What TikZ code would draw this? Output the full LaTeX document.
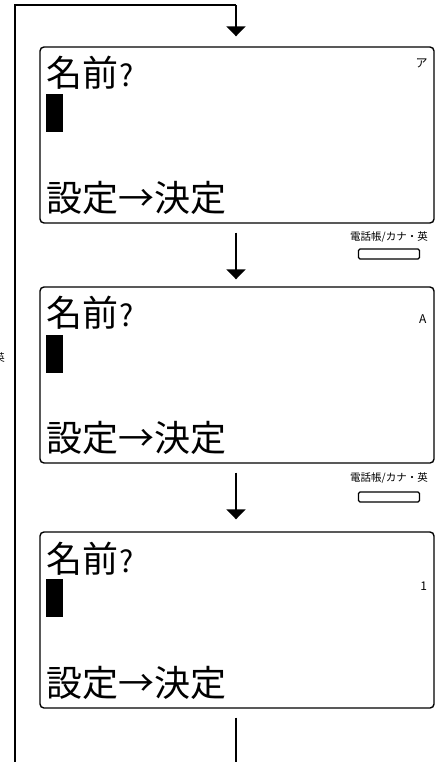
\documentclass[tikz,border=0pt]{standalone}
\usepackage{fontspec}
\setmainfont{Noto Sans CJK JP}
\newfontfamily\jpfont{Noto Sans CJK JP}
\usetikzlibrary{arrows.meta}
\newcommand{\qmk}{{\fontsize{30}{30}\selectfont\hspace{1pt}?}}
\begin{document}
\begin{tikzpicture}[x=1pt,y=-1pt,
  lcd/.style={draw=black,line width=1.4pt,rounded corners=4pt,minimum width=394pt,minimum height=176pt,inner sep=0pt},
  big/.style={font=\jpfont\fontsize{36}{36}\selectfont,inner sep=0pt,anchor=base west},
  small/.style={font=\jpfont\fontsize{12}{12}\selectfont,inner sep=0pt},
  lbl/.style={font=\jpfont\fontsize{10.5}{10.5}\selectfont,inner sep=0pt},
  cursorblk/.style={fill=black,draw=none,minimum width=17pt,minimum height=38pt,inner sep=0pt,anchor=north west},
  btn/.style={draw=black,line width=1.2pt,rounded corners=1.5pt,minimum width=61pt,minimum height=10pt,inner sep=0pt},
  conn/.style={line width=1.8pt},
  arr/.style={conn,-{Triangle[width=19pt,length=10pt]}}]
\useasboundingbox (0,0) rectangle (439,762);
% boxes
\node[lcd] (b1) at (237,135) {};
\node[lcd] (b2) at (237,375) {};
\node[lcd] (b3) at (237,620) {};
% contents box 1
\node[big] (t1a) at ([xshift=7pt,yshift=-40.5pt]b1.north west) {名前\qmk};
\node[cursorblk] (c1) at ([xshift=6pt,yshift=-48pt]b1.north west) {};
\node[big] (t1b) at ([xshift=7pt,yshift=-165.5pt]b1.north west) {設定→決定};
\node[small] (m1) at ([xshift=-13pt,yshift=-17pt]b1.north east) {ア};
% contents box 2
\node[big] (t2a) at ([xshift=7pt,yshift=-40.5pt]b2.north west) {名前\qmk};
\node[cursorblk] (c2) at ([xshift=6pt,yshift=-48pt]b2.north west) {};
\node[big] (t2b) at ([xshift=7pt,yshift=-165.5pt]b2.north west) {設定→決定};
\node[small] (m2) at ([xshift=-12pt,yshift=-33pt]b2.north east) {A};
% contents box 3
\node[big] (t3a) at ([xshift=7pt,yshift=-41pt]b3.north west) {名前\qmk};
\node[cursorblk] (c3) at ([xshift=6pt,yshift=-47pt]b3.north west) {};
\node[big] (t3b) at ([xshift=7pt,yshift=-165pt]b3.north west) {設定→決定};
\node[small] (m3) at ([xshift=-11pt,yshift=-55pt]b3.north east) {1};
% key labels and buttons
\node[lbl] (k1) at (389,237) {電話帳/カナ・英};
\node[btn] (n1) at (389,254) {};
\node[lbl] (k2) at (389,478) {電話帳/カナ・英};
\node[btn] (n2) at (389,497) {};
\node[lbl,anchor=east] (side) at (5,358) {英};
% connectors
\coordinate (loopbot) at (15,762);
\coordinate (looptop) at (15,5);
\coordinate (topturn) at (236,5);
\coordinate (endbot) at (236,762);
\draw[conn] (loopbot) -- (looptop) -- (topturn);
\draw[arr,shorten >=10pt] (topturn) -- (topturn |- b1.north);
\draw[arr,shorten <=9pt,shorten >=7pt] (topturn |- b1.south) -- (topturn |- b2.north);
\draw[arr,shorten <=9pt,shorten >=12pt] (topturn |- b2.south) -- (topturn |- b3.north);
\draw[conn,shorten <=9pt] (topturn |- b3.south) -- (endbot);
\end{tikzpicture}
\end{document}
